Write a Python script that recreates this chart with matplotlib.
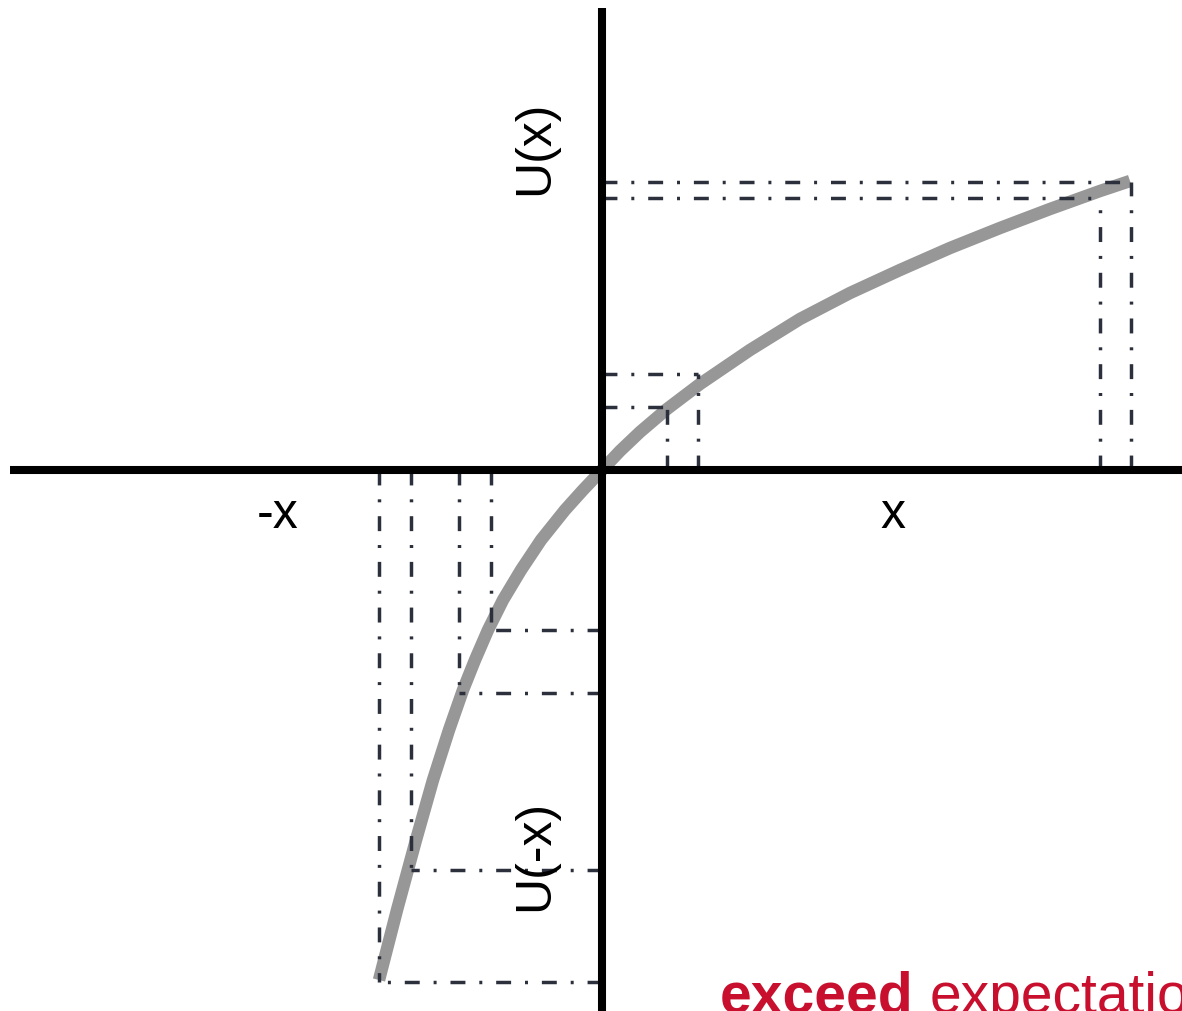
import matplotlib
matplotlib.use('Agg')
import matplotlib.pyplot as plt

# value function (x offset, U offset from the origin)
curve_x = [-223, -205, -186, -169, -153, -139, -127, -114, -99, -81, -61,
           -37, -19, 0, 18, 38, 65, 98, 148, 198, 248, 298, 348, 398, 448,
           498, 528]
curve_u = [-510, -440, -370, -310, -260, -220, -190, -160, -130, -100, -70,
           -40, -20, 0, 19, 38, 61, 86, 120, 151, 177, 200, 222, 242, 261,
           279, 289]

# reference points with their drop lines
gain_x = [65, 96, 498, 529]
gain_u = [63, 96, 272, 288]
loss_x = [-223, -191, -143, -111]
loss_u = [-512, -400, -223, -160]

axis_labels = ['-x', 'x', 'U(x)', 'U(-x)']
brand_bold = 'exceed'
brand_rest = 'expectations'

GRAY = '#979797'
DASH = '#2c2f3c'
RED = '#c8102e'
FONT = ['Liberation Sans', 'DejaVu Sans']

fig = plt.figure(figsize=(11.82, 10.11), dpi=100)
ax = fig.add_axes([0, 0, 1, 1])
ax.set_xlim(-602, 580)
ax.set_ylim(-541, 470)
ax.axis('off')

ax.plot(curve_x, curve_u, color=GRAY, lw=9, solid_capstyle='butt',
        solid_joinstyle='round', zorder=1)

dash_kw = dict(color=DASH, lw=2.5, dashes=(4.3, 4.0, 0.86, 4.0), zorder=2)
for xs, us in [(gain_x, gain_u), (loss_x, loss_u)]:
    for x, u in zip(xs, us):
        ax.plot([x, x], [0, u], **dash_kw)
        ax.plot([0, x], [u, u], **dash_kw)

# axes drawn as plain thick lines
ax.plot([-592, 580], [0, 0], color='black', lw=5.8, solid_capstyle='butt', zorder=3)
ax.plot([0, 0], [-541, 462], color='black', lw=5.8, solid_capstyle='butt', zorder=3)

ax.text(-324, -45, axis_labels[0], fontsize=36, family=FONT, ha='center', va='center')
ax.text(291, -45, axis_labels[1], fontsize=36, family=FONT, ha='center', va='center')
ax.text(-67, 322, axis_labels[2], fontsize=36, family=FONT, rotation=90,
        ha='center', va='center')
ax.text(-67, -385, axis_labels[3], fontsize=36, family=FONT, rotation=90,
        ha='center', va='center')

# brand line, cut off by the bottom/right edge as in the source image
fig.text(720 / 1182, -0.0015, brand_bold, fontsize=41, fontweight='bold',
         family=FONT, color=RED, ha='left', va='baseline')
fig.text(930 / 1182, -0.0015, brand_rest, fontsize=41, family=FONT,
         color=RED, ha='left', va='baseline')

fig.savefig('out.png', dpi=100)
